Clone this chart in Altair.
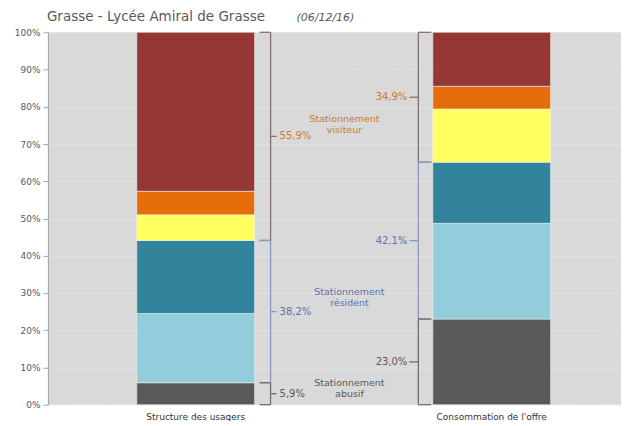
import altair as alt
import pandas as pd

# ---------------- data ----------------
categories = ["Structure des usagers", "Consommation de l'offre"]
segments = ["Abusif", "Résident 1", "Résident 2", "Visiteur 1", "Visiteur 2", "Visiteur 3"]
seg_colors = ["#595959", "#92cddc", "#31849b", "#ffff5e", "#e46c0a", "#953735"]
usagers = [5.9, 18.6, 19.6, 6.9, 6.3, 42.7]
offre = [23.0, 25.7, 16.4, 14.3, 6.1, 14.5]

groups = ["abusif", "résident", "visiteur"]
group_labels = ["Stationnement\nabusif", "Stationnement\nrésident", "Stationnement\nvisiteur"]
usagers_groups = [5.9, 38.2, 55.9]
offre_groups = [23.0, 42.1, 34.9]
text_colors = ["#595959", "#5a72aa", "#c87a35"]
brace_colors = ["#6e6e6e", "#8a98c4", "#857070"]
y_ticks = [0, 10, 20, 30, 40, 50, 60, 70, 80, 90, 100]

FONT = "DejaVu Sans"

rows = []
for cat, vals in zip(categories, [usagers, offre]):
    for i, (s, v) in enumerate(zip(segments, vals)):
        rows.append({"cat": cat, "seg": s, "order": i, "value": v})
bars_df = pd.DataFrame(rows)


def brace_df(totals):
    out = []
    lo = 0.0
    for g, t in zip(groups, totals):
        hi = lo + t
        out.append({"group": g, "lo": lo, "hi": hi, "mid": (lo + hi) / 2,
                    "label": f"{t:.1f}%".replace(".", ",")})
        lo = hi
    return pd.DataFrame(out)


yscale = alt.Scale(domain=[0, 100], nice=False, zero=True)
yaxis = alt.Axis(title=None, values=y_ticks,
                 labelExpr="datum.value + '%'", labelFontSize=9,
                 labelColor="#595959", labelFont=FONT, tickSize=5,
                 labelOverlap=False,
                 tickColor="#a6a6a6", domainColor="#a6a6a6",
                 gridColor="#ececec", gridDash=[2, 2], labelPadding=3)
bcol = alt.Color("group:N", scale=alt.Scale(domain=groups, range=brace_colors), legend=None)
tcol = alt.Color("group:N", scale=alt.Scale(domain=groups, range=text_colors), legend=None)

bars = alt.Chart(bars_df).mark_bar(stroke="#f0f0f0", strokeWidth=0.6).encode(
    x=alt.X("cat:N", sort=categories,
            scale=alt.Scale(paddingInner=0.602, paddingOuter=0.269, align=0.558),
            axis=alt.Axis(title=None, labelAngle=0, ticks=False, domain=False,
                          labelFontSize=9, labelColor="#333333", labelFont=FONT,
                          labelPadding=8)),
    y=alt.Y("value:Q", stack="zero", scale=yscale, axis=yaxis),
    color=alt.Color("seg:N", scale=alt.Scale(domain=segments, range=seg_colors), legend=None),
    order=alt.Order("order:Q"),
)


def Y(field):
    return alt.Y(field, scale=yscale, axis=yaxis)


def braces(totals, xv, xhook, xnotch, xlabel, align):
    d = brace_df(totals)
    base = alt.Chart(d)
    vert = base.mark_rule(strokeWidth=1.3).encode(
        x=alt.value(xv), y=Y("lo:Q"), y2="hi:Q", color=bcol)
    hlo = base.mark_rule(strokeWidth=1.3).encode(
        x=alt.value(xhook), x2=alt.value(xv), y=Y("lo:Q"), color=bcol)
    hhi = base.mark_rule(strokeWidth=1.3).encode(
        x=alt.value(xhook), x2=alt.value(xv), y=Y("hi:Q"), color=bcol)
    notch = base.mark_rule(strokeWidth=1.3).encode(
        x=alt.value(xv), x2=alt.value(xnotch), y=Y("mid:Q"), color=bcol)
    lab = base.mark_text(align=align, baseline="middle", fontSize=10, font=FONT).encode(
        x=alt.value(xlabel), y=Y("mid:Q"), text="label:N", color=tcol)
    return [vert, hlo, hhi, notch, lab]


layers = [bars]
layers += braces(usagers_groups, 223, 212, 229, 232, "left")
layers += braces(offre_groups, 371, 384, 362, 360, "right")

glabel_x = [302, 302, 297]
glabel_y = [351.5, 260.5, 86.5]
for lbl, gx, gy, c in zip(group_labels, glabel_x, glabel_y, text_colors):
    layers.append(
        alt.Chart(pd.DataFrame({"t": [lbl]})).mark_text(
            align="center", baseline="middle", fontSize=9.5, font=FONT,
            lineBreak="\n", lineHeight=11, color=c
        ).encode(x=alt.value(gx), y=alt.value(gy), text="t:N")
    )

title_df = pd.DataFrame({"t": ["Grasse - Lycée Amiral de Grasse"]})
date_df = pd.DataFrame({"t": ["(06/12/16)"]})
layers.append(alt.Chart(title_df).mark_text(
    align="left", baseline="alphabetic", fontSize=13.5, font=FONT, color="#595959"
).encode(x=alt.value(-1), y=alt.value(-11.5), text="t:N"))
layers.append(alt.Chart(date_df).mark_text(
    align="left", baseline="alphabetic", fontSize=11, font=FONT, fontStyle="italic",
    color="#595959"
).encode(x=alt.value(249), y=alt.value(-11.5), text="t:N"))

chart = alt.layer(*layers).resolve_scale(color="independent").properties(
    width=574, height=373,
    autosize=alt.AutoSizeParams(type="none"),
    padding={"left": 40, "top": 24, "right": 0, "bottom": 16},
    background="white",
).configure_view(fill="#d9d9d9", stroke=None)

chart.save("out.html", embed_options={"renderer": "svg", "actions": False})
